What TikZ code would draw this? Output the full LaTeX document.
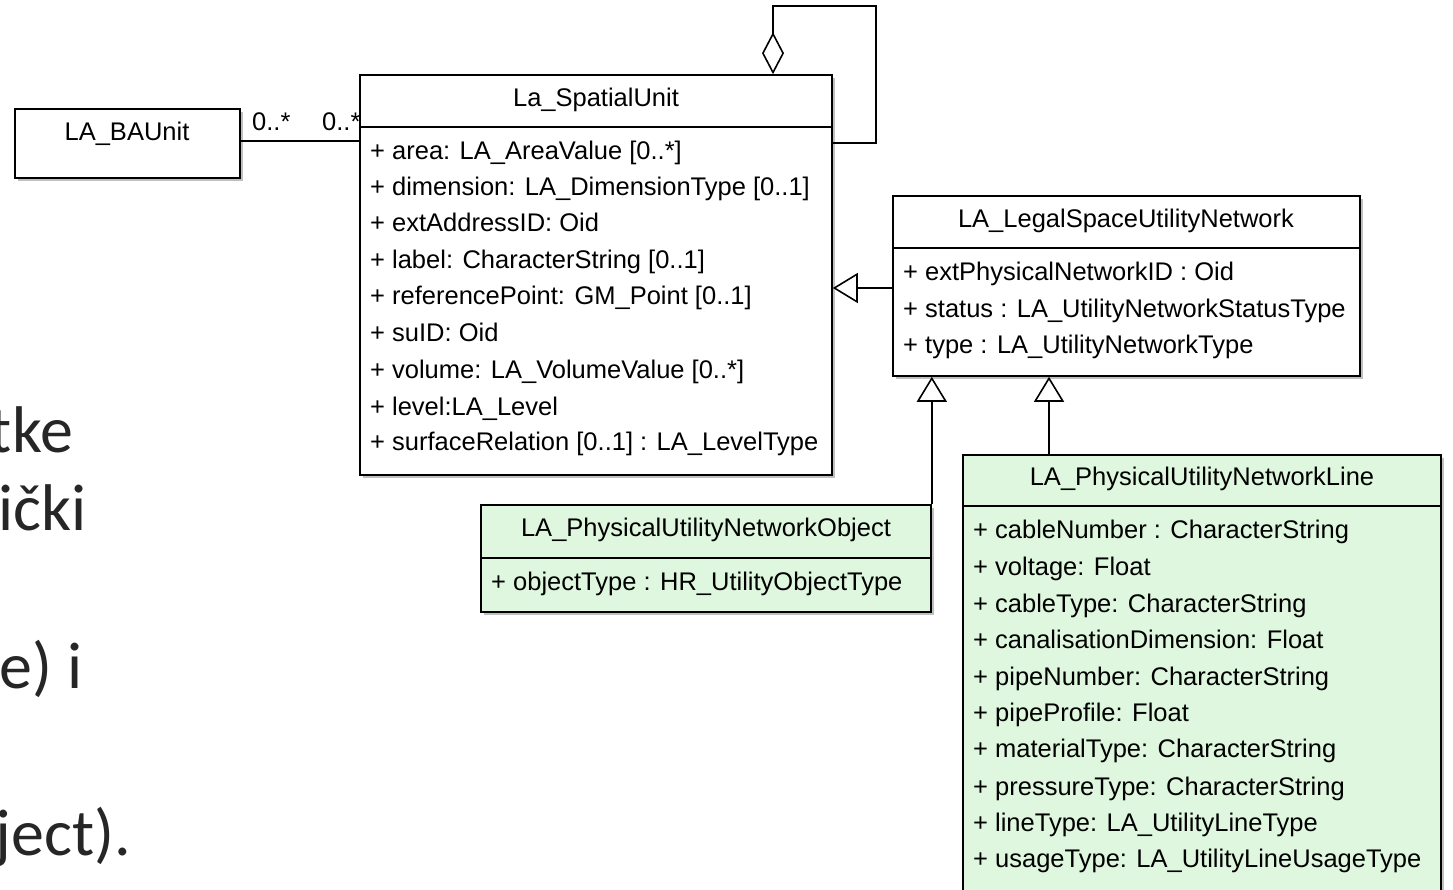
\documentclass[tikz,border=0pt]{standalone}
\usepackage{fontspec}
\setmainfont{Liberation Sans}
\newfontfamily\slidefont{Carlito}
\usetikzlibrary{arrows.meta,shadows}
\definecolor{umlgreen}{RGB}{222,247,222}
\definecolor{slidetext}{RGB}{38,38,38}
\begin{document}
\begin{tikzpicture}[x=1pt,y=-1pt,
  classbox/.style={draw=black, line width=1.6pt, fill=white, inner sep=0pt,
    drop shadow={shadow xshift=3pt,shadow yshift=-3pt,opacity=0.25,fill=black}},
  greenbox/.style={classbox, fill=umlgreen},
  uml/.style={font=\fontsize{25.5}{30}\selectfont, inner sep=0pt, text=black},
  attr/.style={uml, anchor=base west},
  ttl/.style={uml, anchor=base},
  sepline/.style={line width=1.6pt},
  conn/.style={line width=1.6pt},
  gen/.style={conn, -{Triangle[length=25pt, width=30pt, fill=white]}},
  agg/.style={conn, -{Diamond[length=42pt, width=22pt, fill=white]}},
  slide/.style={font=\slidefont\fontsize{66}{70}\selectfont, inner sep=0pt, text=slidetext, anchor=base east}
]
\useasboundingbox (0,0) rectangle (1453,889);
\clip (0,0) rectangle (1453,889);
\fill[white] (0,0) rectangle (1453,889);

% slide text fragments
\node[slide] (s1) at (73,452) {tke};
\node[slide] (s2) at (87,530) {ički};
\node[slide] (s3) at (83,688) {e) i};
\node[slide] (s4) at (131,855) {ject).};

% boxes
\node[classbox, minimum width=225pt, minimum height=69pt] (ba) at (127.5,143.5) {};
\node[classbox, minimum width=472pt, minimum height=400pt] (su) at (596,275) {};
\node[classbox, minimum width=467pt, minimum height=180pt] (ls) at (1126.5,286) {};
\node[greenbox, minimum width=450pt, minimum height=107pt] (obj) at (706,558.5) {};
\node[greenbox, minimum width=478pt, minimum height=445pt] (line) at (1202,677.5) {};

% header separators
\draw[sepline] (su.west |- 0,127) -- (su.east |- 0,127);
\draw[sepline] (ls.west |- 0,248) -- (ls.east |- 0,248);
\draw[sepline] (obj.west |- 0,558) -- (obj.east |- 0,558);
\draw[sepline] (line.west |- 0,506) -- (line.east |- 0,506);

% LA_BAUnit
\node[ttl] (batitle) at (127,140) {LA\_BAUnit};

% La_SpatialUnit
\node[ttl] (sutitle) at (596,106) {La\_SpatialUnit};
\node[attr] (su1) at (370,159) {+ area: LA\_AreaValue [0..*]};
\node[attr] (su2) at (370,195) {+ dimension: LA\_DimensionType [0..1]};
\node[attr] (su3) at (370,231) {+ extAddressID: Oid};
\node[attr] (su4) at (370,268) {+ label: CharacterString [0..1]};
\node[attr] (su5) at (370,304) {+ referencePoint: GM\_Point [0..1]};
\node[attr] (su6) at (370,341) {+ suID: Oid};
\node[attr] (su7) at (370,378) {+ volume: LA\_VolumeValue [0..*]};
\node[attr] (su8) at (370,415) {+ level:LA\_Level};
\node[attr] (su9) at (370,450) {+ surfaceRelation [0..1] : LA\_LevelType};

% LA_LegalSpaceUtilityNetwork
\node[ttl] (lstitle) at (1126,227) {LA\_LegalSpaceUtilityNetwork};
\node[attr] (ls1) at (903,280) {+ extPhysicalNetworkID : Oid};
\node[attr] (ls2) at (903,317) {+ status : LA\_UtilityNetworkStatusType};
\node[attr] (ls3) at (903,353) {+ type : LA\_UtilityNetworkType};

% LA_PhysicalUtilityNetworkObject
\node[ttl] (objtitle) at (706,536) {LA\_PhysicalUtilityNetworkObject};
\node[attr] (obj1) at (491,590) {+ objectType : HR\_UtilityObjectType};

% LA_PhysicalUtilityNetworkLine
\node[ttl] (linetitle) at (1202,485) {LA\_PhysicalUtilityNetworkLine};
\node[attr] (l1) at (973,538) {+ cableNumber : CharacterString};
\node[attr] (l2) at (973,575) {+ voltage: Float};
\node[attr] (l3) at (973,612) {+ cableType: CharacterString};
\node[attr] (l4) at (973,648) {+ canalisationDimension: Float};
\node[attr] (l5) at (973,685) {+ pipeNumber: CharacterString};
\node[attr] (l6) at (973,721) {+ pipeProfile: Float};
\node[attr] (l7) at (973,757) {+ materialType: CharacterString};
\node[attr] (l8) at (973,795) {+ pressureType: CharacterString};
\node[attr] (l9) at (973,831) {+ lineType: LA\_UtilityLineType};
\node[attr] (l10) at (973,867) {+ usageType: LA\_UtilityLineUsageType};

% association BAUnit - SpatialUnit
\draw[conn] (ba.east |- 0,141) -- (su.west |- 0,141);
\node[uml, anchor=base west] (m1) at (252,130) {0..*};
\node[uml, anchor=base west] (m2) at (322,130) {0..*};

% self aggregation
\draw[agg] (su.east |- 0,143) -- (876,143) -- (876,6) -- (773,6) -- (su.north -| 773,0);

% generalisations
\draw[gen] (ls.west |- 0,288) -- (su.east |- 0,288);
\draw[gen] (obj.north east) -- (obj.north east |- ls.south);
\draw[gen] (line.north -| 1049,0) -- (ls.south -| 1049,0);
\end{tikzpicture}
\end{document}
